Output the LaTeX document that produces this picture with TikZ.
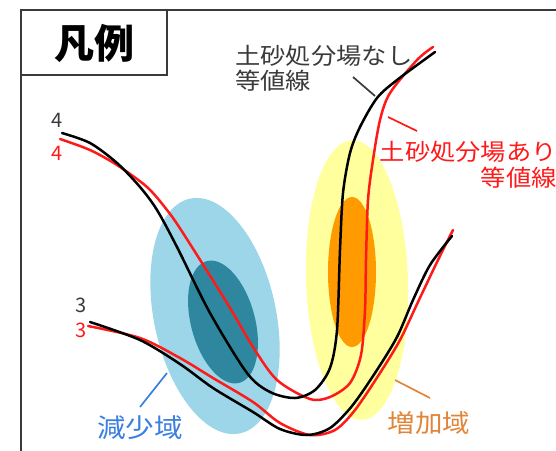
\documentclass[tikz,border=0pt]{standalone}
\usepackage{fontspec}
\setmainfont{Noto Sans CJK JP}
\newfontfamily\lblfont[FakeStretch=1.1]{Noto Sans CJK JP}
\usetikzlibrary{positioning}

\definecolor{skyfill}{HTML}{9DD6E8}
\definecolor{deepfill}{HTML}{2F879F}
\definecolor{yelfill}{HTML}{FFFF9E}
\definecolor{orgfill}{HTML}{FF9A00}
\definecolor{isored}{HTML}{FF1A1A}
\definecolor{txtgray}{HTML}{3A3A3A}
\definecolor{txtblue}{HTML}{3A7FE0}
\definecolor{txtorange}{HTML}{E0863A}

\begin{document}
\begin{tikzpicture}[
  x=1pt, y=-1pt,
  iso/.style={line width=2.5pt, line cap=round, smooth, tension=0.5},
  lbl/.style={font=\lblfont\fontsize{23}{25.5}\selectfont, inner sep=0pt},
  num/.style={font=\fontsize{20}{20}\selectfont, inner sep=0pt},
  lead/.style={line width=1.7pt}
]
\useasboundingbox (0,0) rectangle (556,450);

% frame and title box
\draw[txtgray, line width=1.5pt] (21,452) -- (21,10) -- (558,10);
\draw[txtgray, line width=1.5pt] (21,10) rectangle (167,75);
\node[font=\bfseries\fontsize{40}{40}\selectfont] (title) at (94,43) {凡例};

% decrease / increase areas
\fill[skyfill] (215,316) ellipse [x radius=61pt, y radius=120pt, rotate=12];
\fill[deepfill] (223,322) ellipse [x radius=32pt, y radius=63pt, rotate=15];
\fill[yelfill] (357,280) ellipse [x radius=51pt, y radius=140pt, rotate=2];
\fill[orgfill] (352,272) ellipse [x radius=24pt, y radius=75pt];

% isolines 4
\draw[iso, isored] plot coordinates {(60,139) (90,150) (117,165) (147,187)
  (167,210) (183,233) (227,303) (253,347) (277,380) (310,399) (330,397)
  (350,383) (361,355) (365,310) (366,260) (368,200) (373,160) (380,120)
  (390,93) (417,60) (433,47)};
\draw[iso, black] plot coordinates {(62,133) (90,143) (117,163) (140,187)
  (157,210) (177,247) (210,313) (247,373) (270,392) (295,398) (315,390)
  (330,368) (337,330) (340,250) (343,193) (350,153) (360,127) (377,98)
  (397,80) (435,52)};

% isolines 3
\draw[iso, isored] plot coordinates {(88,326) (140,338) (180,358) (213,378)
  (253,402) (280,423) (310,435) (335,430) (355,410) (380,373) (400,340)
  (418,302) (438,260) (453,230)};
\draw[iso, black] plot coordinates {(90,322) (140,340) (180,364) (213,388)
  (253,412) (280,429) (307,435) (330,428) (352,406) (375,373) (397,337)
  (413,300) (430,265) (452,236)};

% contour values
\node[num, txtgray] (n4) at (57,120) {4};
\node[num, isored] (r4) at (57,153) {4};
\node[num, txtgray] (n3) at (81,305) {3};
\node[num, isored] (r3) at (81,330) {3};

% labels
\node[lbl, txtgray, anchor=north west, align=left] (nolbl) at (235,45)
  {土砂処分場なし\\等値線};
\node[lbl, isored, anchor=north east, align=right] (yeslbl) at (557,141)
  {土砂処分場あり\\等値線};
\node[lbl, txtblue, font=\lblfont\fontsize{26}{26}\selectfont] (declbl) at (140,428) {減少域};
\node[lbl, txtorange, font=\lblfont\fontsize{25}{25}\selectfont] (inclbl) at (429,423) {増加域};

% leader lines
\coordinate (noA) at (353,77);
\coordinate (noB) at (375,96);
\coordinate (yesA) at (388,117);
\coordinate (yesB) at (417,131);
\coordinate (decA) at (140,407);
\coordinate (decB) at (167,373);
\coordinate (incA) at (395,380);
\coordinate (incB) at (430,398);
\draw[lead, txtgray] (noA) -- (noB);
\draw[lead, isored] (yesA) -- (yesB);
\draw[lead, txtblue] (decA) -- (decB);
\draw[lead, txtorange] (incA) -- (incB);
\end{tikzpicture}
\end{document}
